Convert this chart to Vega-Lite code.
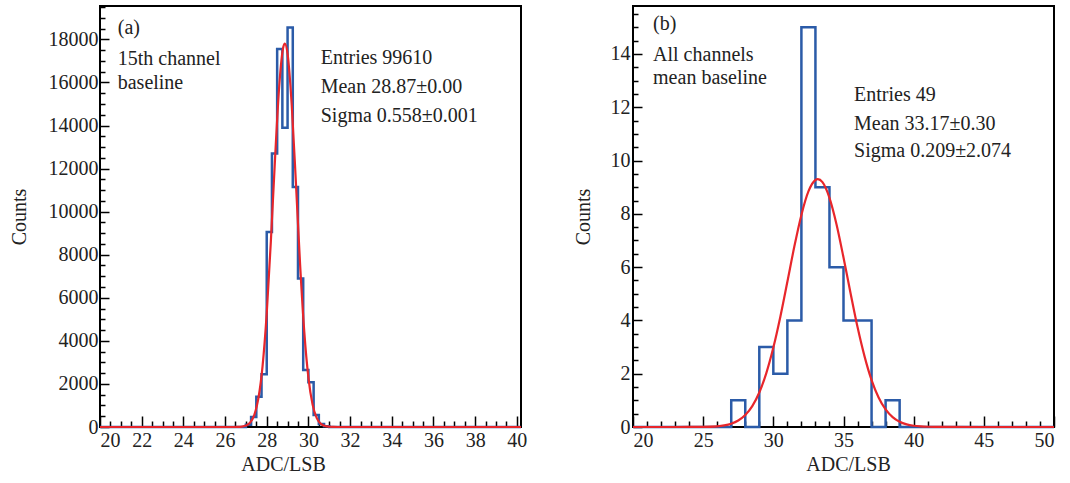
{
  "$schema": "https://vega.github.io/schema/vega-lite/v6.json",
  "background": "white",
  "padding": {"left": 8, "top": 5, "right": 5, "bottom": 5},
  "spacing": 44,
  "config": {
    "view": {"stroke": "black", "strokeWidth": 2},
    "font": "Liberation Serif",
    "axis": {
      "labelFont": "Liberation Serif", "labelFontSize": 20, "labelColor": "#222",
      "titleFont": "Liberation Serif", "titleFontSize": 20, "titleFontWeight": "normal", "titleColor": "#222",
      "domain": false, "grid": false, "tickColor": "black", "tickWidth": 1.5
    }
  },
  "datasets": {
    "histA": [
      {"adc": 20, "counts": 0}, {"adc": 27.0, "counts": 100}, {"adc": 27.25, "counts": 470},
      {"adc": 27.5, "counts": 1400}, {"adc": 27.75, "counts": 2450}, {"adc": 28.0, "counts": 9050},
      {"adc": 28.25, "counts": 12700}, {"adc": 28.5, "counts": 17550}, {"adc": 28.75, "counts": 13900},
      {"adc": 29.0, "counts": 18550}, {"adc": 29.25, "counts": 11150}, {"adc": 29.5, "counts": 6900},
      {"adc": 29.75, "counts": 2650}, {"adc": 30.0, "counts": 2080}, {"adc": 30.25, "counts": 560},
      {"adc": 30.5, "counts": 140}, {"adc": 30.75, "counts": 30}, {"adc": 31.0, "counts": 0},
      {"adc": 40.2, "counts": 0}
    ],
    "fitA": [
      {"adc": 20, "f": 0}, {"adc": 25, "f": 0}, {"adc": 26.0, "f": 0}, {"adc": 26.4, "f": 1},
      {"adc": 26.6, "f": 4.5}, {"adc": 26.8, "f": 18}, {"adc": 27.0, "f": 65}, {"adc": 27.2, "f": 202},
      {"adc": 27.4, "f": 554}, {"adc": 27.6, "f": 1335}, {"adc": 27.8, "f": 2831}, {"adc": 28.0, "f": 5281},
      {"adc": 28.2, "f": 8658}, {"adc": 28.4, "f": 12488}, {"adc": 28.6, "f": 15837}, {"adc": 28.8, "f": 17665},
      {"adc": 28.87, "f": 17804}, {"adc": 29.0, "f": 17327}, {"adc": 29.2, "f": 14946}, {"adc": 29.4, "f": 11339},
      {"adc": 29.6, "f": 7565}, {"adc": 29.8, "f": 4439}, {"adc": 30.0, "f": 2291}, {"adc": 30.2, "f": 1040},
      {"adc": 30.4, "f": 415}, {"adc": 30.6, "f": 146}, {"adc": 30.8, "f": 45}, {"adc": 31.0, "f": 12},
      {"adc": 31.2, "f": 3}, {"adc": 31.4, "f": 0.6}, {"adc": 32, "f": 0}, {"adc": 35, "f": 0}, {"adc": 40.2, "f": 0}
    ],
    "textA": [
      {"adc": 20.85, "counts": 18530, "label": "(a)"},
      {"adc": 20.85, "counts": 17090, "label": "15th channel"},
      {"adc": 20.85, "counts": 15975, "label": "baseline"},
      {"adc": 30.59, "counts": 17140, "label": "Entries 99610"},
      {"adc": 30.59, "counts": 15790, "label": "Mean 28.87±0.00"},
      {"adc": 30.59, "counts": 14445, "label": "Sigma 0.558±0.001"}
    ],
    "histB": [
      {"adc": 20, "counts": 0}, {"adc": 27, "counts": 1}, {"adc": 28, "counts": 0}, {"adc": 29, "counts": 3},
      {"adc": 30, "counts": 2}, {"adc": 31, "counts": 4}, {"adc": 32, "counts": 15}, {"adc": 33, "counts": 9},
      {"adc": 34, "counts": 6}, {"adc": 35, "counts": 4}, {"adc": 36, "counts": 4}, {"adc": 37, "counts": 0},
      {"adc": 38, "counts": 1}, {"adc": 39, "counts": 0}, {"adc": 50, "counts": 0}
    ],
    "fitB": [
      {"adc": 20, "f": 0}, {"adc": 22, "f": 0}, {"adc": 24, "f": 0.001}, {"adc": 25, "f": 0.005},
      {"adc": 26, "f": 0.027}, {"adc": 26.5, "f": 0.06}, {"adc": 27, "f": 0.124}, {"adc": 27.5, "f": 0.243},
      {"adc": 28, "f": 0.449}, {"adc": 28.5, "f": 0.784}, {"adc": 29, "f": 1.294}, {"adc": 29.5, "f": 2.02},
      {"adc": 30, "f": 2.98}, {"adc": 30.5, "f": 4.14}, {"adc": 31, "f": 5.45}, {"adc": 31.5, "f": 6.78},
      {"adc": 32, "f": 7.96}, {"adc": 32.5, "f": 8.84}, {"adc": 33, "f": 9.27}, {"adc": 33.17, "f": 9.3},
      {"adc": 33.5, "f": 9.19}, {"adc": 34, "f": 8.6}, {"adc": 34.5, "f": 7.61}, {"adc": 35, "f": 6.36},
      {"adc": 35.5, "f": 5.03}, {"adc": 36, "f": 3.75}, {"adc": 36.5, "f": 2.65}, {"adc": 37, "f": 1.76},
      {"adc": 37.5, "f": 1.11}, {"adc": 38, "f": 0.66}, {"adc": 38.5, "f": 0.371}, {"adc": 39, "f": 0.197},
      {"adc": 39.5, "f": 0.099}, {"adc": 40, "f": 0.047}, {"adc": 40.5, "f": 0.021}, {"adc": 41, "f": 0.009},
      {"adc": 42, "f": 0.001}, {"adc": 45, "f": 0}, {"adc": 50, "f": 0}
    ],
    "textB": [
      {"adc": 21.43, "counts": 15.11, "label": "(b)"},
      {"adc": 21.43, "counts": 13.96, "label": "All channels"},
      {"adc": 21.43, "counts": 13.1, "label": "mean baseline"},
      {"adc": 35.75, "counts": 12.46, "label": "Entries 49"},
      {"adc": 35.75, "counts": 11.38, "label": "Mean 33.17±0.30"},
      {"adc": 35.75, "counts": 10.34, "label": "Sigma 0.209±2.074"}
    ]
  },
  "hconcat": [
    {
      "width": 421, "height": 421,
      "resolve": {"axis": {"x": "independent", "y": "independent"}},
      "layer": [
        {
          "data": {"name": "histA"},
          "mark": {"type": "line", "interpolate": "step-after", "color": "#2b5ba8", "strokeWidth": 2.5},
          "encoding": {
            "x": {"field": "adc", "type": "quantitative",
                  "scale": {"domain": [20, 40.2], "nice": false, "zero": false},
                  "axis": {"orient": "bottom", "title": "ADC/LSB", "values": [20,22,24,26,28,30,32,34,36,38,40],
                           "tickSize": -11, "labelPadding": 14, "titlePadding": 4, "titleX": 183, "format": "d"}},
            "y": {"field": "counts", "type": "quantitative",
                  "scale": {"domain": [0, 19550], "nice": false},
                  "axis": {"orient": "left", "title": "Counts", "values": [0,2000,4000,6000,8000,10000,12000,14000,16000,18000],
                           "tickSize": -9, "labelPadding": 11, "titlePadding": 19, "format": "d"}}
          }
        },
        {
          "data": {"name": "fitA"},
          "mark": {"type": "line", "interpolate": "monotone", "color": "#e8262b", "strokeWidth": 2.2},
          "encoding": {
            "x": {"field": "adc", "type": "quantitative",
                  "axis": {"orient": "bottom", "title": null, "labels": false, "tickSize": -6,
                           "values": [20.5,21,21.5,22.5,23,23.5,24.5,25,25.5,26.5,27,27.5,28.5,29,29.5,30.5,31,31.5,32.5,33,33.5,34.5,35,35.5,36.5,37,37.5,38.5,39,39.5]}},
            "y": {"field": "f", "type": "quantitative",
                  "axis": {"orient": "left", "title": null, "labels": false, "tickSize": -5,
                           "values": [500,1000,1500,2500,3000,3500,4500,5000,5500,6500,7000,7500,8500,9000,9500,10500,11000,11500,12500,13000,13500,14500,15000,15500,16500,17000,17500,18500,19000,19500]}}
          }
        },
        {
          "data": {"name": "textA"},
          "mark": {"type": "text", "align": "left", "baseline": "middle", "font": "Liberation Serif", "fontSize": 20, "color": "#222"},
          "encoding": {
            "x": {"field": "adc", "type": "quantitative", "axis": null},
            "y": {"field": "counts", "type": "quantitative", "axis": null},
            "text": {"field": "label", "type": "nominal"}
          }
        }
      ]
    },
    {
      "width": 421, "height": 421,
      "resolve": {"axis": {"x": "independent", "y": "independent"}},
      "layer": [
        {
          "data": {"name": "histB"},
          "mark": {"type": "line", "interpolate": "step-after", "color": "#2b5ba8", "strokeWidth": 2.5},
          "encoding": {
            "x": {"field": "adc", "type": "quantitative",
                  "scale": {"domain": [20, 50], "nice": false, "zero": false},
                  "axis": {"orient": "bottom", "title": "ADC/LSB", "values": [20,25,30,35,40,45,50],
                           "tickSize": -11, "labelPadding": 14, "titlePadding": 4, "titleX": 215, "format": "d"}},
            "y": {"field": "counts", "type": "quantitative",
                  "scale": {"domain": [0, 15.8], "nice": false},
                  "axis": {"orient": "left", "title": "Counts", "values": [0,2,4,6,8,10,12,14],
                           "tickSize": -9, "labelPadding": 12, "titlePadding": 17, "format": "d"}}
          }
        },
        {
          "data": {"name": "fitB"},
          "mark": {"type": "line", "interpolate": "monotone", "color": "#e8262b", "strokeWidth": 2.2},
          "encoding": {
            "x": {"field": "adc", "type": "quantitative",
                  "axis": {"orient": "bottom", "title": null, "labels": false, "tickSize": -6,
                           "values": [21,22,23,24,26,27,28,29,31,32,33,34,36,37,38,39,41,42,43,44,46,47,48,49]}},
            "y": {"field": "f", "type": "quantitative",
                  "axis": {"orient": "left", "title": null, "labels": false, "tickSize": -5,
                           "values": [0.5,1,1.5,2.5,3,3.5,4.5,5,5.5,6.5,7,7.5,8.5,9,9.5,10.5,11,11.5,12.5,13,13.5,14.5,15,15.5]}}
          }
        },
        {
          "data": {"name": "textB"},
          "mark": {"type": "text", "align": "left", "baseline": "middle", "font": "Liberation Serif", "fontSize": 20, "color": "#222"},
          "encoding": {
            "x": {"field": "adc", "type": "quantitative", "axis": null},
            "y": {"field": "counts", "type": "quantitative", "axis": null},
            "text": {"field": "label", "type": "nominal"}
          }
        }
      ]
    }
  ]
}
